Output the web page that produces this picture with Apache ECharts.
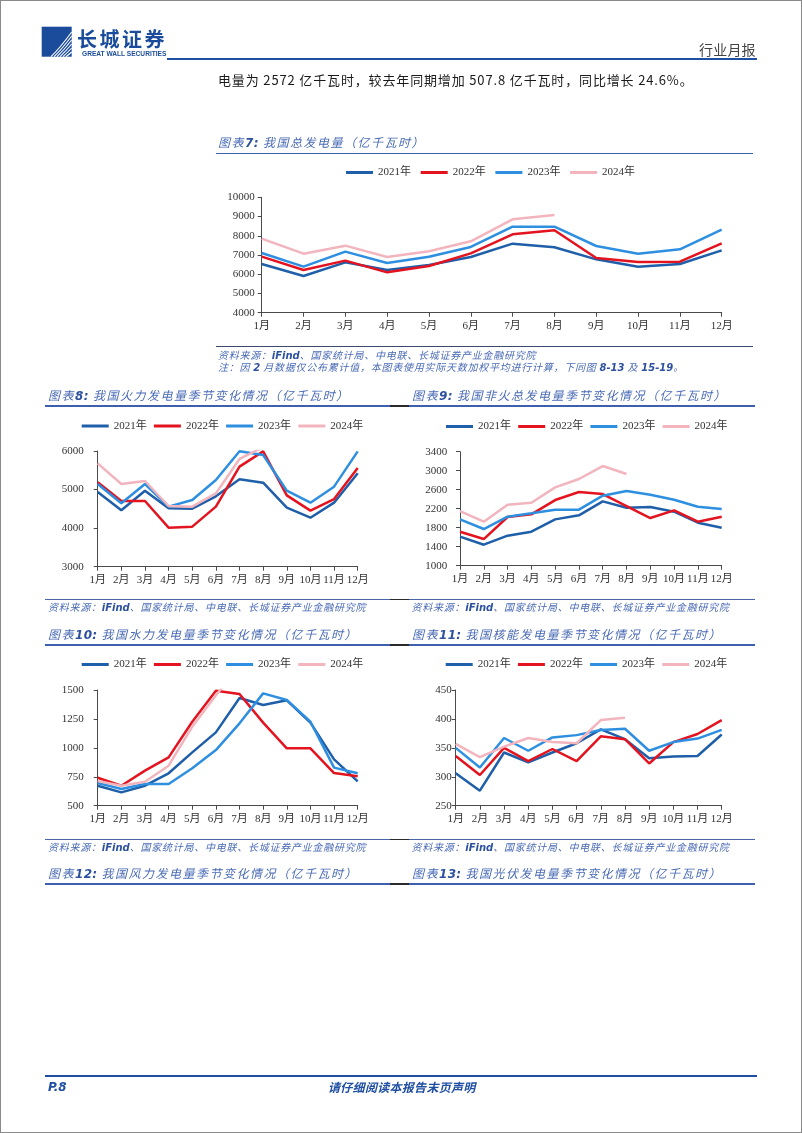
<!DOCTYPE html>
<html><head><meta charset="utf-8">
<script src="https://cdn.jsdelivr.net/npm/echarts/dist/echarts.min.js"></script>
<style>
html,body{margin:0;padding:0;background:#fff;}
#page{position:relative;width:802px;height:1133px;overflow:hidden;background:#fff;}
#c{position:absolute;left:0;top:0;width:802px;height:1133px;}
.t{position:absolute;white-space:nowrap;line-height:1;font-family:"Noto Sans CJK SC",sans-serif;z-index:3;}
.ln{position:absolute;z-index:3;}
.ttl{font-size:12px;letter-spacing:1.5px;font-style:italic;color:#4a6bb5;}
.ttl b{color:#2d519f;font-weight:bold;font-family:"DejaVu Sans","Noto Sans CJK SC";letter-spacing:0.3px;}
.src{font-size:10px;letter-spacing:0.75px;font-style:italic;color:#4a6bb5;}
.src b{font-family:"DejaVu Sans";font-weight:bold;letter-spacing:0;color:#2d519f;}
#frame{position:absolute;left:0;top:0;width:800px;height:1131px;border:1px solid #8a8a8a;z-index:4;pointer-events:none;}
</style></head>
<body><div id="page">
<div id="c"></div>
<div id="frame"></div>
<svg class="ln" style="left:41px;top:26px" width="32" height="32" viewBox="0 0 32 32">
 <rect x="0.7" y="0.7" width="30" height="30" fill="#1b4c9c"/>
 <g fill="none" stroke="#fff" stroke-width="1.1">
  <path d="M10 30.7 Q19 22 30.7 6"/>
  <path d="M13 30.7 Q21 23 30.7 10"/>
  <path d="M16 30.7 Q23 24 30.7 14"/>
  <path d="M19 30.7 Q25 25 30.7 18"/>
  <path d="M22 30.7 Q27 26 30.7 22"/>
  <path d="M25 30.7 Q28.5 28 30.7 26"/>
 </g>
</svg>
<div class="t" style="left:77px;top:29px;font-size:20px;font-weight:bold;color:#1b4c9c;letter-spacing:2.5px;">长城证券</div>
<div class="t" style="left:82px;top:50.5px;font-size:6.6px;font-weight:bold;color:#1b4c9c;font-family:'Liberation Sans',sans-serif;">GREAT WALL SECURITIES</div>
<div class="t" style="left:699px;top:42px;font-size:14px;color:#444;letter-spacing:0.2px;">行业月报</div>
<div class="ln" style="left:167px;top:58px;width:590px;height:2px;background:#1f4ea3;"></div>
<div class="t" style="left:218px;top:73px;font-size:13px;color:#1a1a1a;letter-spacing:0.85px;">电量为 2572 亿千瓦时，较去年同期增加 507.8 亿千瓦时，同比增长 24.6%。</div>

<div class="t ttl" style="left:218px;top:136px;">图表<b>7:</b> 我国总发电量（亿千瓦时）</div>
<div class="ln" style="left:216px;top:152.5px;width:537px;height:1.3px;background:#3d5fae;"></div>
<div class="ln" style="left:216px;top:345.8px;width:537px;height:1.6px;background:#3c4a6e;"></div>
<div class="t src" style="left:218px;top:350px;">资料来源：<b>iFind</b>、国家统计局、中电联、长城证券产业金融研究院</div>
<div class="t src" style="left:218px;top:362.3px;">注：因 <b>2</b> 月数据仅公布累计值，本图表使用实际天数加权平均进行计算，下同图 <b>8-13</b> 及 <b>15-19</b>。</div>

<div class="t ttl" style="left:48px;top:388.5px;">图表<b>8:</b> 我国火力发电量季节变化情况（亿千瓦时）</div>
<div class="t ttl" style="left:412px;top:388.5px;">图表<b>9:</b> 我国非火总发电量季节变化情况（亿千瓦时）</div>
<div class="t src" style="left:48px;top:601.5px;">资料来源：<b>iFind</b>、国家统计局、中电联、长城证券产业金融研究院</div>
<div class="t src" style="left:411.5px;top:601.5px;">资料来源：<b>iFind</b>、国家统计局、中电联、长城证券产业金融研究院</div>

<div class="t ttl" style="left:48px;top:627.5px;">图表<b>10:</b> 我国水力发电量季节变化情况（亿千瓦时）</div>
<div class="t ttl" style="left:412px;top:627.5px;">图表<b>11:</b> 我国核能发电量季节变化情况（亿千瓦时）</div>
<div class="t src" style="left:48px;top:842.3px;">资料来源：<b>iFind</b>、国家统计局、中电联、长城证券产业金融研究院</div>
<div class="t src" style="left:411.5px;top:842.3px;">资料来源：<b>iFind</b>、国家统计局、中电联、长城证券产业金融研究院</div>

<div class="t ttl" style="left:48px;top:867px;">图表<b>12:</b> 我国风力发电量季节变化情况（亿千瓦时）</div>
<div class="t ttl" style="left:412px;top:867px;">图表<b>13:</b> 我国光伏发电量季节变化情况（亿千瓦时）</div>

<div id="rowlines"></div>

<div class="ln" style="left:45px;top:1074.5px;width:712px;height:2.5px;background:#1f4ea3;"></div>
<div class="t" style="left:48px;top:1081px;font-size:12px;font-weight:bold;font-style:italic;color:#1f4ea3;font-family:'DejaVu Sans';">P.8</div>
<div class="t" style="left:328px;top:1081px;font-size:12px;font-weight:bold;font-style:italic;color:#1f4ea3;letter-spacing:0.3px;">请仔细阅读本报告末页声明</div>
</div>
<script>
// ---- data ----
const months = ['1月','2月','3月','4月','5月','6月','7月','8月','9月','10月','11月','12月'];
const years = ['2021年','2022年','2023年','2024年'];
// 图表7 总发电量
const total2021 = [6532,5908,6619,6220,6480,6896,7590,7399,6775,6393,6532,7243];
const total2022 = [6913,6220,6706,6098,6428,7087,8075,8283,6844,6636,6653,7607];
const total2023 = [7104,6393,7174,6584,6913,7416,8474,8474,7468,7070,7295,8318];
const total2024 = [7850,7070,7486,6896,7191,7711,8856,9081];
// 图表8 火力
const thermal2021 = [4937,4462,4971,4513,4505,4825,5265,5179,4531,4271,4660,5421];
const thermal2022 = [5188,4704,4704,4012,4038,4557,5594,5990,4850,4453,4755,5559];
const thermal2023 = [5144,4643,5144,4557,4729,5248,5995,5896,4971,4660,5075,5990];
const thermal2024 = [5680,5144,5222,4574,4557,4902,5793,6100];
// 图表9 非火
const nonThermal2021 = [1611,1442,1632,1716,1975,2060,2354,2221,2235,2137,1905,1800];
const nonThermal2022 = [1716,1561,2025,2081,2382,2551,2509,2256,2004,2165,1926,2032];
const nonThermal2023 = [1975,1772,2032,2102,2179,2179,2474,2572,2495,2389,2242,2193];
const nonThermal2024 = [2151,1926,2284,2326,2649,2825,3098,2930];
// 图表10 水力
const hydro2021 = [673,615,673,780,961,1134,1431,1370,1411,1218,901,710];
const hydro2022 = [742,673,803,918,1226,1494,1465,1218,996,996,782,754];
const hydro2023 = [696,644,687,687,823,981,1212,1471,1414,1226,829,780];
const hydro2024 = [713,673,707,846,1183,1455,1700,1560];
// 图表11 核能
const nuclear2021 = [306,276,342,325,342,358,382,365,332,335,336,373];
const nuclear2022 = [336,303,350,327,348,327,370,365,323,360,374,398];
const nuclear2023 = [350,316,367,345,368,372,381,383,345,360,366,381];
const nuclear2024 = [357,334,352,367,360,358,398,402];
// axis ticks
const yTicks7 = {min:4000,max:10000,interval:1000};
const yTicks8 = {min:3000,max:6000,interval:1000};
const yTicks9 = {min:1000,max:3400,interval:400};
const yTicks10 = {min:500,max:1500,interval:250};
const yTicks11 = {min:250,max:450,interval:50};

// page rule lines between the two columns (blue / dark joint / blue)
const ruleRows = [
  {y:405.3, h:1.3, color:'#3d5fae'},
  {y:598.8, h:1.5, color:'#4863a8'},
  {y:644.3, h:1.3, color:'#3d5fae'},
  {y:838.5, h:1.5, color:'#4863a8'},
  {y:883.3, h:1.3, color:'#3d5fae'}
];
const rl = document.getElementById('rowlines');
ruleRows.forEach(r=>{
  [[45,390,r.color],[390,409,'#2b2b2b'],[409,755,r.color]].forEach(s=>{
    const d = document.createElement('div');
    d.className = 'ln';
    d.style.cssText = `left:${s[0]}px;top:${r.y}px;width:${s[1]-s[0]}px;height:${r.h}px;background:${s[2]};`;
    rl.appendChild(d);
  });
});

const colors = ['#1F5FA9','#E3141F','#2E8FE0','#F2B5BE'];
const font = 'Liberation Serif, Noto Sans CJK SC';
const axisColor = '#4a4a4a';

const charts = [
  {series:[total2021,total2022,total2023,total2024], y:yTicks7, grid:{left:261.7,top:197.3,width:460,height:115.4}, labelMargin:7, legend:{left:346,top:167,gap:9.7}},
  {series:[thermal2021,thermal2022,thermal2023,thermal2024], y:yTicks8, grid:{left:97.7,top:451,width:260,height:115.7}, labelMargin:14, legend:{left:81.7,top:420.5,gap:7.2}},
  {series:[nonThermal2021,nonThermal2022,nonThermal2023,nonThermal2024], y:yTicks9, grid:{left:460,top:451.7,width:261.7,height:114}, labelMargin:12.7, legend:{left:446,top:421,gap:7.2}},
  {series:[hydro2021,hydro2022,hydro2023,hydro2024], y:yTicks10, grid:{left:97.7,top:690,width:260,height:115.7}, labelMargin:14, legend:{left:81.7,top:659,gap:7.2}},
  {series:[nuclear2021,nuclear2022,nuclear2023,nuclear2024], y:yTicks11, grid:{left:455.7,top:690,width:266,height:115.7}, labelMargin:4, legend:{left:445.7,top:659,gap:7.2}}
];

const option = {animation:false, grid:[], xAxis:[], yAxis:[], legend:[], series:[]};
charts.forEach((c,k)=>{
  option.grid.push(Object.assign({containLabel:false}, c.grid));
  option.xAxis.push({
    gridIndex:k, type:'category', data:months, boundaryGap:false,
    axisLine:{show:true,lineStyle:{color:axisColor,width:1}},
    axisTick:{show:true,length:4,alignWithLabel:true,lineStyle:{color:axisColor}},
    axisLabel:{interval:0,margin:8,fontSize:11,color:'#333',fontFamily:font},
    splitLine:{show:false}
  });
  option.yAxis.push({
    gridIndex:k, type:'value', min:c.y.min, max:c.y.max, interval:c.y.interval,
    axisLine:{show:true,lineStyle:{color:axisColor,width:1}},
    axisTick:{show:true,length:4,lineStyle:{color:axisColor}},
    axisLabel:{margin:c.labelMargin,fontSize:11,color:'#333',fontFamily:font,formatter:v=>String(v)},
    splitLine:{show:false}
  });
  option.legend.push({
    data:years, left:c.legend.left, top:c.legend.top, orient:'horizontal',
    padding:0, itemGap:c.legend.gap, itemWidth:27, itemHeight:3, icon:'rect',
    textStyle:{fontSize:11,color:'#333',fontFamily:font}, selectedMode:false
  });
  c.series.forEach((d,i)=>{
    option.series.push({
      name:years[i], type:'line', xAxisIndex:k, yAxisIndex:k, data:d,
      symbol:'none', smooth:false, clip:true,
      lineStyle:{width:2.5,color:colors[i]}, itemStyle:{color:colors[i]},
      z:2+i
    });
  });
});
const chart = echarts.init(document.getElementById('c'), null, {renderer:'canvas'});
chart.setOption(option);
</script>
</body></html>
